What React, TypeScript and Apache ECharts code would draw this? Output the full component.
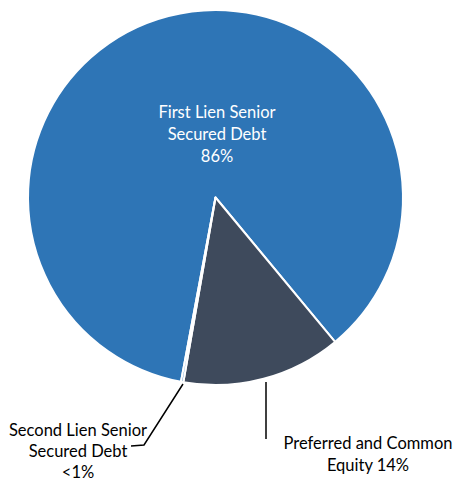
import React, { useEffect, useRef } from "react";
import * as echarts from "echarts";

const categories = [
  "First Lien Senior Secured Debt",
  "Preferred and Common Equity",
  "Second Lien Senior Secured Debt",
];
const values = [86.05, 13.75, 0.2];
const percentLabels = ["86%", "14%", "<1%"];
const labelTexts = [
  "First Lien Senior\nSecured Debt\n86%",
  "Preferred and Common\nEquity 14%",
  "Second Lien Senior\nSecured Debt\n<1%",
];
const colors = ["#2E75B6", "#3E4A5C", "#2E75B6"];

const labelPos = [
  { x: 217, y: 134 },
  { x: 368, y: 454 },
  { x: 78, y: 451 },
];
const linePoints: (number[][] | null)[] = [
  null,
  [
    [266, 382],
    [266, 410],
    [266, 439],
  ],
  [
    [183, 384],
    [144, 445],
    [131, 446],
  ],
];

export default function App() {
  const ref = useRef<HTMLDivElement>(null);
  useEffect(() => {
    document.body.style.margin = "0";
    const chart = echarts.init(ref.current!, null, { renderer: "svg" });
    chart.setOption({
      animation: false,
      series: [
        {
          type: "pie",
          center: [215.5, 197.5],
          radius: 187.5,
          startAngle: 259.4,
          clockwise: true,
          avoidLabelOverlap: false,
          itemStyle: { borderColor: "#ffffff", borderWidth: 2 },
          data: categories.map((name, i) => ({
            name,
            value: values[i],
            itemStyle: { color: colors[i] },
            label: {
              show: true,
              position: i === 0 ? "inside" : "outside",
              formatter: () => labelTexts[i],
              color: i === 0 ? "#ffffff" : "#000000",
              fontFamily: "Lato, 'Open Sans', sans-serif",
              fontSize: 16.5,
              lineHeight: i === 2 ? 21 : 22,
              align: "center",
            },
            labelLine: {
              show: i !== 0,
              lineStyle: { color: "#000000", width: 1.5 },
            },
          })),
          labelLayout: (params: any) => {
            const i = params.dataIndex;
            const res: any = {
              x: labelPos[i].x,
              y: labelPos[i].y,
              align: "center",
              verticalAlign: "middle",
            };
            if (linePoints[i]) res.labelLinePoints = linePoints[i];
            return res;
          },
        },
      ],
    });
    return () => chart.dispose();
  }, []);
  return <div ref={ref} style={{ width: 457, height: 482 }} data-pct={percentLabels.join(",")} />;
}
